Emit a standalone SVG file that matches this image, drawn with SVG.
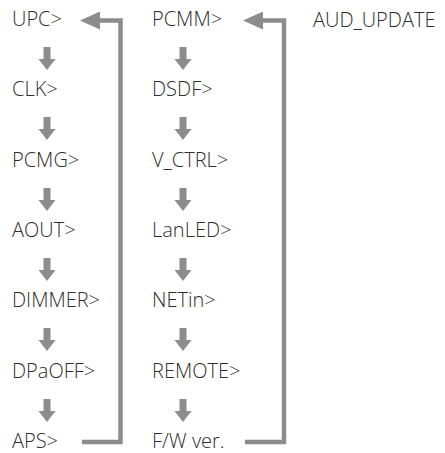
<svg xmlns="http://www.w3.org/2000/svg" xmlns:xlink="http://www.w3.org/1999/xlink" width="445" height="453" viewBox="0 0 445 453">
<style>
text{font-family:"Open Sans","Noto Sans","DejaVu Sans",sans-serif;font-size:20px;font-weight:300;fill:#2e2e2e}
.ret{fill:none;stroke:#8c8c8c;stroke-width:4.5;marker-end:url(#ah)}
.dn{fill:#8c8c8c}
</style>
<defs>
<marker id="ah" viewBox="0 0 20 18" refX="2" refY="9" markerWidth="20" markerHeight="18" markerUnits="userSpaceOnUse" orient="auto">
<path d="M0,0 L20,9 L0,18 z" fill="#8c8c8c"/>
</marker>
<path id="d" class="dn" d="M-3.5,0 H3.5 V12 H8.5 L0,23 L-8.5,12 H-3.5 z"/>
</defs>
<rect width="445" height="453" fill="#fff"/>
<g id="connectors">
<use href="#d" x="47" y="47"/>
<use href="#d" x="47" y="117"/>
<use href="#d" x="47" y="188"/>
<use href="#d" x="47" y="258"/>
<use href="#d" x="47" y="328"/>
<use href="#d" x="47" y="399"/>
<use href="#d" x="183" y="47"/>
<use href="#d" x="183" y="117"/>
<use href="#d" x="183" y="188"/>
<use href="#d" x="183" y="258"/>
<use href="#d" x="183" y="328"/>
<use href="#d" x="183" y="399"/>
<path class="ret" d="M82,442 H120.5 V20.5 H98"/>
<path class="ret" d="M245,442 H284 V20.5 H261"/>
</g>
<g id="n-upc"><text x="12" y="26">UPC&gt;</text></g>
<g id="n-clk"><text x="12" y="96">CLK&gt;</text></g>
<g id="n-pcmg"><text x="12" y="167">PCMG&gt;</text></g>
<g id="n-aout"><text x="12" y="237">AOUT&gt;</text></g>
<g id="n-dimmer"><text x="12" y="307">DIMMER&gt;</text></g>
<g id="n-dpaoff"><text x="12" y="378">DPaOFF&gt;</text></g>
<g id="n-aps"><text x="12" y="448">APS&gt;</text></g>
<g id="n-pcmm"><text x="152" y="26">PCMM&gt;</text></g>
<g id="n-dsdf"><text x="152" y="96">DSDF&gt;</text></g>
<g id="n-vctrl"><text x="152" y="167">V_CTRL&gt;</text></g>
<g id="n-lanled"><text x="152" y="237">LanLED&gt;</text></g>
<g id="n-netin"><text x="152" y="307">NETin&gt;</text></g>
<g id="n-remote"><text x="152" y="378">REMOTE&gt;</text></g>
<g id="n-fw"><text x="152" y="448">F/W ver.</text></g>
<g id="n-aud"><text x="313" y="27">AUD_UPDATE</text></g>
</svg>
